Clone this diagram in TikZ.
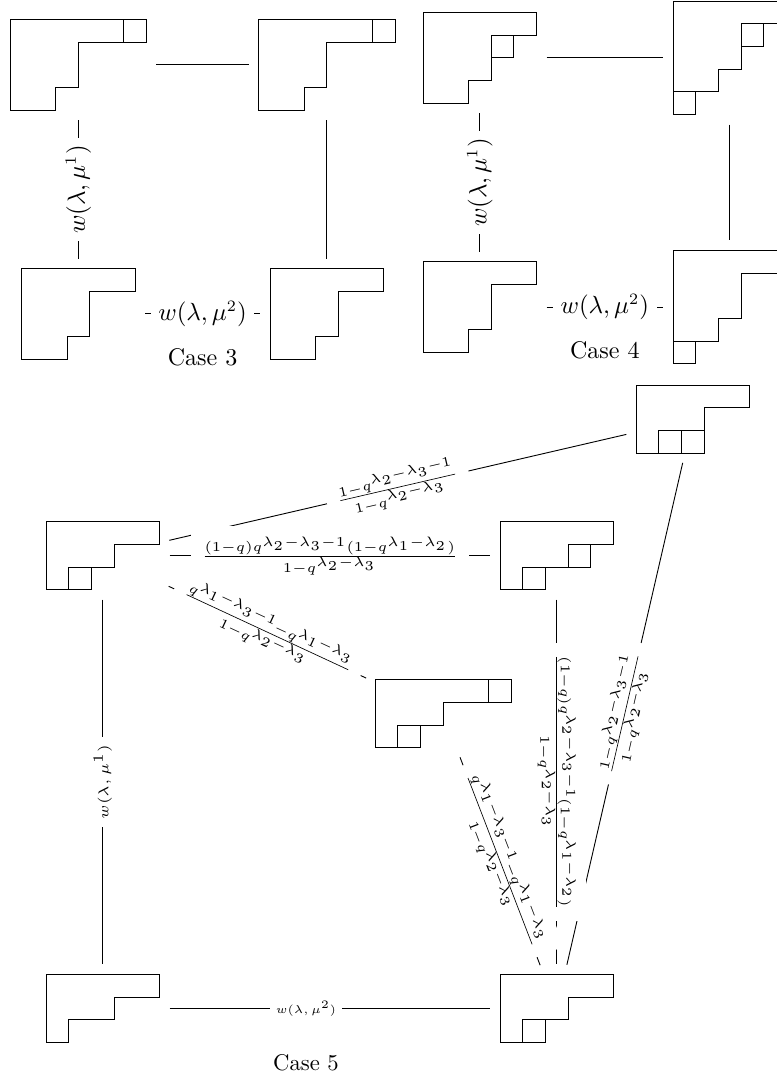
\documentclass[tikz,border=0pt]{standalone}
\usepackage{amsmath}
\usetikzlibrary{positioning, backgrounds}
\tikzset{
  yd/.style 2 args={inner sep=0pt, outer sep=0pt, minimum width=#1*10pt, minimum height=#2*10pt},
  link/.style={shorten <=4.4pt, shorten >=4.4pt},
  lbl/.style={fill=white, font=\fontsize{10.6}{12}\selectfont},
  frc/.style={fill=white, font=\tiny, scale=1.2, inner sep=3.8pt},
  wsm/.style={fill=white, font=\tiny, inner sep=2.5pt},
  pics/bigpart/.style={code={\draw (0,0) -| (5,-1) -| (3,-3) -| (2,-4) -- (0,-4) -- cycle;}},
  pics/smallpart/.style={code={\draw (0,0) -| (5,-1) -| (3,-2) -| (1,-3) -- (0,-3) -- cycle;}},
}

\begin{document}
\begin{tikzpicture}[x=10pt, y=10pt]
    \useasboundingbox (0,0) rectangle (34.23,-47.8);
    \foreach \n/\x/\y/\w/\h in {a3/3.45/-2.86/6/4, b3/14.4/-2.86/6/4, c3/3.45/-13.83/5/4, d3/14.4/-13.83/5/4,
        a4/21.14/-2.55/5/4, b4/32.15/-2.55/5/5, c4/21.14/-13.53/5/4, d4/32.15/-13.53/5/5}
    {
        \node[yd={\w}{\h}] (\n) at (\x,\y) {};
        \pic at (\n.north west) {bigpart};
    }
    \foreach \n/\x/\y/\w in {l/4.53/-24.48/5, tr/30.52/-18.46/5, mr/24.53/-24.48/5, m/19.53/-31.45/6,
        bl/4.53/-44.43/5, br/24.53/-44.43/5}
    {
        \node[yd={\w}{3}] (\n) at (\x,\y) {};
        \pic at (\n.north west) {smallpart};
    }
    \foreach \n/\c/\r in {a3/6/1, b3/6/1, a4/4/2, b4/4/2, b4/1/5, d4/1/5, l/2/3, tr/2/3, tr/3/3,
        mr/4/2, mr/2/3, m/6/1, m/2/3, br/2/3}
    {
        \draw ([shift={(\c-1,1-\r)}]\n.north west) rectangle ++(1,-1);
    }
    \begin{scope}[on background layer]
    \draw[link](a3)--(b3);
    \draw[link](a3)--node[lbl, rotate=90]{$w(\lambda,\mu^1)$}(c3);
    \draw[link](b3)--(d3);
    \draw[link](c3)--node[lbl](w3){$w(\lambda,\mu^2)$}(d3);
    \draw[link](a4)--(b4);
    \draw[link](a4)--node[lbl, rotate=90]{$w(\lambda,\mu^1)$}(c4);
    \draw[link](b4)--(d4);
    \draw[link](c4)--node[lbl](w4){$w(\lambda,\mu^2)$}(d4);
    \draw[link](l)--node[frc, sloped]{$\frac{1-q^{\lambda_2-\lambda_3-1}}{1-q^{\lambda_2-\lambda_3}}$}(tr);
    \draw[link](l)--node[frc]{$\frac{(1-q)q^{\lambda_2-\lambda_3-1}(1-q^{\lambda_1-\lambda_2})}{1-q^{\lambda_2-\lambda_3}}$}(mr);
    \draw[link](l)--node[frc, sloped]{$\frac{q^{\lambda_1-\lambda_3-1}-q^{\lambda_1-\lambda_3}}{1-q^{\lambda_2-\lambda_3}}$}(m);
    \draw[link](l)--node[wsm, scale=1.25, rotate=90]{$w(\lambda,\mu^1)$}(bl);
    \draw[link](bl)--node[wsm, pos=.43](w5){$w(\lambda,\mu^2)$}(br);
    \draw[link](tr)--node[frc, sloped]{$\frac{1-q^{\lambda_2-\lambda_3-1}}{1-q^{\lambda_2-\lambda_3}}$}(br);
    \draw[link](mr)--node[frc, rotate=-90]{$\frac{(1-q)q^{\lambda_2-\lambda_3-1}(1-q^{\lambda_1-\lambda_2})}{1-q^{\lambda_2-\lambda_3}}$}(br);
    \draw[link](m)--node[frc, sloped]{$\frac{q^{\lambda_1-\lambda_3-1}-q^{\lambda_1-\lambda_3}}{1-q^{\lambda_2-\lambda_3}}$}(br);
    \end{scope}
    \node[below=2.6pt of w3, font=\fontsize{10.6}{12}\selectfont]{Case 3};
    \node[below=2.6pt of w4, font=\fontsize{10.6}{12}\selectfont]{Case 4};
    \node[below=10.6pt of w5]{Case 5};
\end{tikzpicture}
\end{document}
